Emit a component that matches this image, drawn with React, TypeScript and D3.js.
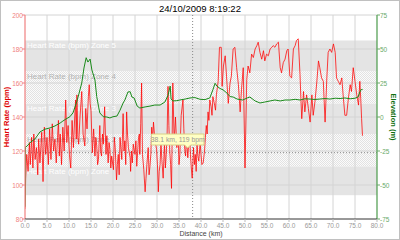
import React from "react";
import * as d3 from "d3";

const title = "24/10/2009 8:19:22";

const hrKm = [0.0,0.15,0.4,0.7,1.0,1.2,1.5,1.8,2.0,2.3,2.6,2.9,3.1,3.4,3.8,4.1,4.4,4.7,5.0,5.3,5.6,5.9,6.2,6.5,6.8,7.1,7.4,7.6,7.8,8.0,8.3,8.6,8.9,9.25,9.5,9.8,10.1,10.4,10.7,11.0,11.3,11.5,11.65,11.8,12.0,12.2,12.5,12.9,13.2,13.6,13.8,14.1,14.4,14.6,14.8,15.0,15.3,15.6,15.9,16.1,16.3,16.5,16.7,17.0,17.2,17.4,17.6,17.8,18.1,18.4,18.6,18.9,19.1,19.3,19.5,19.7,20.1,20.3,20.5,20.8,21.0,21.2,21.4,21.6,22.0,22.3,22.5,22.7,22.9,23.1,23.3,23.5,23.9,24.0,24.2,24.4,24.6,25.0,25.2,25.4,25.8,26.0,26.1,26.3,26.5,26.7,27.0,27.3,27.5,27.7,28.0,28.2,28.4,28.6,28.8,29.0,29.2,29.5,29.9,30.1,30.3,30.5,30.7,30.9,31.1,31.4,31.7,31.9,32.1,32.3,32.5,32.7,32.9,33.1,33.3,33.6,33.9,34.2,34.5,34.8,35.0,35.2,35.5,35.9,36.1,36.3,36.5,36.7,37.0,37.2,37.4,37.6,37.8,38.0,38.3,38.5,38.7,38.9,39.1,39.3,39.5,39.8,40.0,40.2,40.5,40.8,41.0,41.2,41.4,41.6,41.8,42.0,42.3,42.5,42.7,43.1,43.3,43.5,43.9,44.2,44.6,44.8,45.1,45.5,45.8,46.2,46.6,46.9,47.3,47.7,48.1,48.5,48.9,49.2,49.6,50.0,50.4,50.7,51.1,51.5,51.9,52.3,52.7,53.0,53.4,53.8,54.2,54.5,54.9,55.3,55.7,56.1,56.4,56.8,57.2,57.6,58.0,58.3,58.7,59.1,59.5,59.8,60.2,60.6,61.0,61.4,61.7,62.1,62.5,62.7,62.9,63.3,63.6,64.0,64.4,64.8,65.2,65.5,65.9,66.3,66.7,67.0,67.4,67.8,68.2,68.6,68.9,69.3,69.7,70.1,70.5,70.8,71.2,71.6,72.0,72.3,72.7,73.1,73.5,73.9,74.2,74.6,75.0,75.4,75.8,76.1,76.3,76.5,76.7];
const hrBpm = [86,104,118,108,125,112,128,110,130,115,122,106,127,113,131,102,134,118,128,112,133,115,136,120,127,113,128,138,117,130,112,134,120,150,125,135,118,110,138,122,140,150,127,153,128,124,140,155,130,123,145,133,152,159,148,144,119,133,117,128,123,112,115,135,120,117,130,124,146,118,129,113,125,121,110,117,109,128,122,103,112,118,106,128,115,142,120,126,112,143,130,122,116,108,120,113,124,118,126,111,128,130,118,136,160,118,109,96,104,112,122,106,111,118,134,126,137,127,121,112,96,108,112,125,115,104,125,110,118,130,158,135,120,112,98,160,125,140,122,130,112,118,141,150,133,121,117,128,116,124,130,118,110,104,122,112,118,108,124,117,114,125,118,112,113,120,128,135,130,143,138,150,146,141,152,147,144,153,161,181,181,158,170,176,164,148,160,164,180,181,169,159,143,156,169,110,162,170,166,177,175,180,182,184,178,174,179,173,177,176,180,181,182,181,183,184,169,166,172,174,179,180,164,163,180,182,185,186,165,151,139,155,143,153,145,137,153,141,149,160,173,169,163,161,137,163,178,180,178,183,178,163,161,159,163,153,141,141,151,159,155,169,161,153,147,161,151,139,129];

const elKm = [0,0.1,0.45,1.1,2.3,3.4,4.5,5.7,6.8,8.0,8.6,9.3,10.2,10.9,11.75,12.3,12.9,13.4,13.9,14.3,14.8,15.2,15.9,16.3,16.7,17.0,17.8,18.6,19.3,20.0,20.9,21.6,22.3,22.7,23.4,23.9,24.3,24.8,25.5,26.1,27.3,28.4,29.5,30.7,31.8,32.5,33.0,33.2,33.6,34.5,35.2,36.4,37.5,38.6,39.8,40.9,42.0,42.7,43.2,43.6,44.3,45.0,45.9,46.6,47.3,48.2,49.5,50.5,51.1,52.3,53.4,54.5,55.7,56.8,58.0,59.1,60.2,61.4,62.5,63.6,64.8,65.9,67.0,68.2,69.3,70.5,71.6,72.7,73.9,75.0,75.7,76.1,76.5,76.7];
const elM = [-66,-22,-21.5,-19,-16,-11,-9,-8,-6.6,-4.4,-3,-1.5,0.2,3,11,17.6,25,36,43.6,40.4,42.6,34.6,27.2,15,8,3,0.2,0,-0.7,0.2,0.7,5,10.3,12.5,18.4,18.6,14.7,14,8,6.6,7.4,8,8.8,8.8,11,16,22.8,13.2,11.8,12,12.5,13.2,14,14.3,13,12.8,14,20,24.8,22.8,21,20,17.6,15,14.7,13.2,12.5,14,14.7,11.8,10.3,11,11.8,12.5,11.8,12.5,12.5,13,12.5,13.4,13.2,12.9,13.2,13.6,13.2,13.8,13.6,14,13.4,13.8,14.7,18.4,20.6,19.9];

const hrTicks = [80,100,120,140,160,180,200];
const elTicks = [-75,-50,-25,0,25,50,75];
const kmTicks = [0,5,10,15,20,25,30,35,40,45,50,55,60,65,70,75,80];

const zoneNames = ["Heart Rate (bpm) Zone", "Heart Rate (bpm) Zone 2", "Heart Rate (bpm) Zone 3", "Heart Rate (bpm) Zone 4", "Heart Rate (bpm) Zone 5"];
const zoneLow = [94,111,130,148,167];
const zoneHigh = [111,130,148,167,185];

const markerKm = 38.1;
const markerBpm = 119;
const markerText = "38.1 km, 119 bpm";

export default function App() {
  const W = 400, H = 240;
  const L = 25, R = 377, T = 15, B = 219;
  const x = d3.scaleLinear().domain([0, 80]).range([L, R]);
  const yHr = d3.scaleLinear().domain([80, 200]).range([B, T]);
  const yEl = d3.scaleLinear().domain([-75, 75]).range([B, T]);
  const font = "Liberation Sans, Arial, sans-serif";

  const hrLine = d3.line<number>().x((_, i) => x(hrKm[i])).y((d) => yHr(d))(hrBpm) || "";
  const elLine = d3.line<number>().x((_, i) => x(elKm[i])).y((d) => yEl(d))(elM) || "";

  const mx = x(markerKm), my = yHr(markerBpm);
  const bx0 = 151.5, bx1 = 204, by0 = 134, by1 = 145;
  const callout = `M${bx0},${by0} L${bx1},${by0} L${bx1},${by1} L${mx - 2},${by1} L${mx - 5},${by1 + 3} L${mx - 8},${by1} L${bx0},${by1} Z`;

  return (
    <svg width={W} height={H} style={{ position: "absolute", left: 0, top: 0, background: "#fff" }} fontFamily={font}>
      <defs>
        <pattern id="hatch" width="2" height="2" patternUnits="userSpaceOnUse">
          <rect width="2" height="2" fill="#fbfbfb" />
          <rect x="0" y="0" width="1" height="1" fill="#e2e2e2" />
          <rect x="1" y="1" width="1" height="1" fill="#e2e2e2" />
        </pattern>
        <clipPath id="plot"><rect x={L} y={T} width={R - L} height={B - T} /></clipPath>
      </defs>
      <rect x={0.5} y={0.5} width={W - 1} height={H - 1} fill="#fff" stroke="#c0c0c0" />
      <text x={200} y={12} textAnchor="middle" fontSize={9.5} fill="#000">{title}</text>

      {zoneLow.map((lo, i) => (
        <rect key={"z" + i} x={L} y={yHr(zoneHigh[i])} width={R - L} height={yHr(lo) - yHr(zoneHigh[i])}
          fill={i % 2 === 0 ? "#e4e4e4" : "url(#hatch)"} />
      ))}

      {kmTicks.slice(1, -1).map((k) => (
        <line key={"vg" + k} x1={x(k)} x2={x(k)} y1={T} y2={B} stroke="#d4d4d4" strokeWidth={1} />
      ))}
      {hrTicks.slice(1).map((h) => (
        <line key={"hg" + h} x1={L} x2={R} y1={yHr(h)} y2={yHr(h)} stroke="#d4d4d4" strokeWidth={1} />
      ))}

      {zoneLow.map((lo, i) => (
        <text key={"zl" + i} x={L + 2} y={yHr(zoneHigh[i]) + 7.5} fontSize={8}
          fill={i % 2 === 0 ? "#ffffff" : "#b4b4b4"}>{zoneNames[i]}</text>
      ))}

      <line x1={mx} x2={mx} y1={T} y2={B} stroke="#888" strokeWidth={1} strokeDasharray="1,2" />
      <line x1={L} x2={R} y1={my} y2={my} stroke="#888" strokeWidth={1} strokeDasharray="1,2" />

      <g clipPath="url(#plot)">
        <path d={hrLine} fill="none" stroke="#ff0000" strokeOpacity={0.75} strokeWidth={1} />
        <path d={elLine} fill="none" stroke="#1a8a1a" strokeWidth={1} />
      </g>

      {/* left axis */}
      <line x1={L} x2={L} y1={T} y2={B} stroke="#f08080" strokeWidth={1.2} />
      {hrTicks.map((h) => (
        <g key={"ht" + h}>
          <line x1={L - 3} x2={L} y1={yHr(h)} y2={yHr(h)} stroke="#f08080" />
          <text x={L - 2} y={yHr(h) + 2.5} textAnchor="end" fontSize={6.5} fill="#f08080">{h}</text>
        </g>
      ))}
      {/* right axis */}
      <line x1={R} x2={R} y1={T} y2={B} stroke="#4a9a4a" strokeWidth={1.2} />
      {elTicks.map((e) => (
        <g key={"et" + e}>
          <line x1={R} x2={R + 3} y1={yEl(e)} y2={yEl(e)} stroke="#6aaa6a" />
          <text x={R + 3} y={yEl(e) + 2.5} textAnchor="start" fontSize={6.5} fill="#6aaa6a">{e}</text>
        </g>
      ))}
      {/* bottom axis */}
      <line x1={L} x2={R} y1={B} y2={B} stroke="#333" strokeWidth={1} />
      {kmTicks.map((k) => (
        <g key={"kt" + k}>
          <line x1={x(k)} x2={x(k)} y1={B} y2={B + 3} stroke="#bbb" />
          <text x={x(k)} y={B + 9} textAnchor="middle" fontSize={6.5} fill="#999">{k.toFixed(1)}</text>
        </g>
      ))}

      <text transform={`translate(9,117) rotate(-90)`} textAnchor="middle" fontSize={7.5} fontWeight="bold" fill="#e00000">Heart Rate (bpm)</text>
      <text transform={`translate(391,117) rotate(90)`} textAnchor="middle" fontSize={7.5} fontWeight="bold" fill="#107010">Elevation (m)</text>
      <text x={201} y={236} textAnchor="middle" fontSize={7} fill="#444">Distance (km)</text>

      <path d={callout} fill="#ffffc4" stroke="#d8d088" strokeWidth={1} />
      <text x={(bx0 + bx1) / 2} y={by1 - 3} textAnchor="middle" fontSize={6.8} fill="#999">{markerText}</text>
    </svg>
  );
}
